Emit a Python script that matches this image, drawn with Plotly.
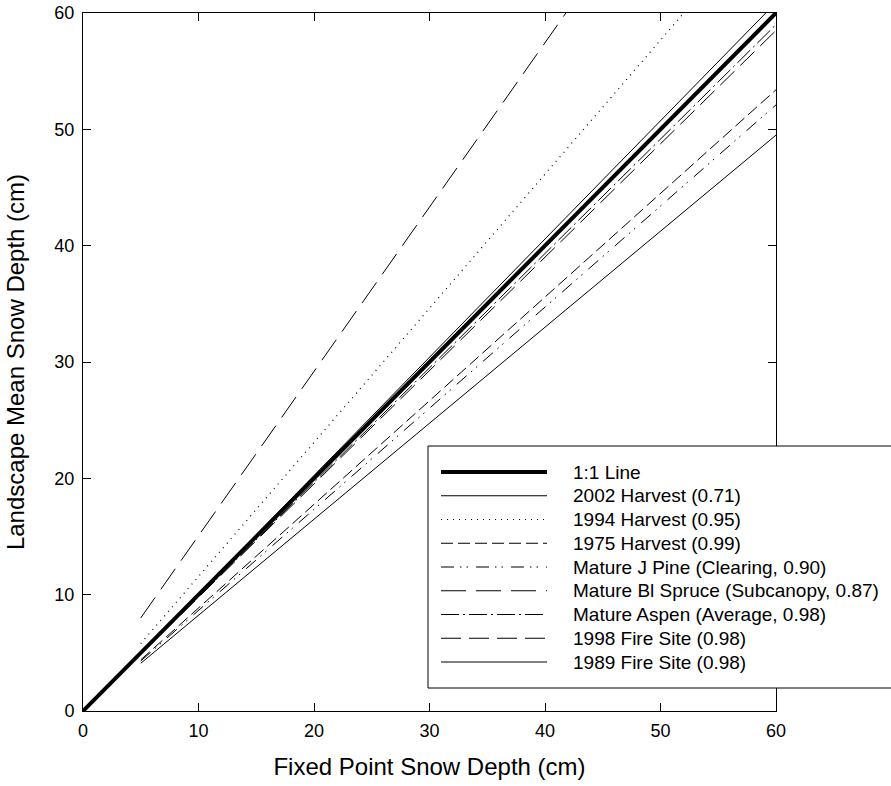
import plotly.graph_objects as go

# ---- data ----
series_names = [
    "1:1 Line",
    "2002 Harvest (0.71)",
    "1994 Harvest (0.95)",
    "1975 Harvest (0.99)",
    "Mature J Pine (Clearing, 0.90)",
    "Mature Bl Spruce (Subcanopy, 0.87)",
    "Mature Aspen (Average, 0.98)",
    "1998 Fire Site (0.98)",
    "1989 Fire Site (0.98)",
]
x_start = [0, 5, 5, 5, 5, 5, 5, 5, 5]
x_end = [60, 60, 60, 60, 60, 60, 60, 60, 60]
y_start = [0, 4.1, 5.8, 4.4, 4.3, 8.0, 4.9, 4.9, 5.0]
y_end = [60, 49.5, 69.2, 53.4, 52.1, 85.7, 59.0, 58.5, 60.9]
tick_vals = [0, 10, 20, 30, 40, 50, 60]

# ---- styles ----
widths = [4, 1, 1.2, 1, 1, 1, 1, 1, 1]
dashes = ["solid", "solid", "1px,5px", "12px,5px", "13px,6px,1.5px,5px,1.5px,8px",
          "25px,10px", "18px,4px,2px,4px", "20px,8px", "solid"]

FONT = "Liberation Sans, Arial, sans-serif"

fig = go.Figure()
for i, name in enumerate(series_names):
    fig.add_trace(go.Scatter(
        x=[x_start[i], x_end[i]], y=[y_start[i], y_end[i]],
        mode="lines", name=name, showlegend=False,
        line=dict(color="black", width=widths[i], dash=dashes[i]),
    ))

W, H = 891, 786
L, T = 83, 13
pw, ph = 693, 698
R = W - L - pw
B = H - T - ph

def px_x(p):
    return (p - L) / pw

def px_y(p):
    return (T + ph - p) / ph

shapes = []
annotations = []
# legend box
shapes.append(dict(type="rect", xref="paper", yref="paper", layer="above",
                   x0=px_x(428), x1=px_x(960), y0=px_y(688), y1=px_y(446),
                   fillcolor="white", line=dict(color="black", width=1)))
for i, name in enumerate(series_names):
    yc = px_y(472 + 23.75 * i)
    shapes.append(dict(type="line", xref="paper", yref="paper", layer="above",
                       x0=px_x(441), x1=px_x(547), y0=yc, y1=yc,
                       line=dict(color="black", width=widths[i], dash=dashes[i])))
    annotations.append(dict(xref="paper", yref="paper", x=px_x(571), y=yc,
                            text=name, showarrow=False, xanchor="left", yanchor="middle",
                            font=dict(family=FONT, size=19, color="black")))

axis_common = dict(
    range=[0, 60], tickvals=tick_vals, ticks="inside", ticklen=8, tickwidth=1,
    tickcolor="black", showline=True, linecolor="black", linewidth=1, mirror="ticks",
    showgrid=False, zeroline=False, ticklabeloverflow="allow",
    tickfont=dict(family=FONT, size=18, color="black"),
)

fig.update_layout(
    width=W, height=H,
    margin=dict(l=L, r=R, t=T, b=B, autoexpand=False),
    plot_bgcolor="white", paper_bgcolor="white",
    xaxis=dict(title=dict(text="Fixed Point Snow Depth (cm)", standoff=18,
                          font=dict(family=FONT, size=24, color="black")),
               ticklabelstandoff=3, **axis_common),
    yaxis=dict(title=dict(text="Landscape Mean Snow Depth (cm)", standoff=22,
                          font=dict(family=FONT, size=24, color="black")),
               ticklabelstandoff=4, **axis_common),
    shapes=shapes, annotations=annotations,
    font=dict(family=FONT, color="black"),
)

# remove the browser's default 8px body margin so the figure sits at the page origin
fig.write_html("out.html", config={"displayModeBar": False},
               post_script="document.body.style.margin='0';")
